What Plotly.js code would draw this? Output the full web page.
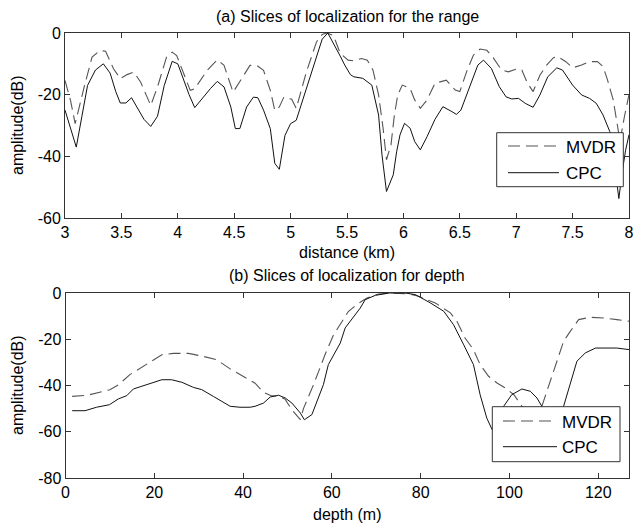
<!DOCTYPE html>
<html>
<head>
<meta charset="utf-8">
<script src="https://cdn.plot.ly/plotly-3.0.1.min.js"></script>
<style>
  html, body { margin: 0; padding: 0; background: #ffffff; }
  #chart { width: 634px; height: 527px; }
</style>
</head>
<body>
<div id="chart"></div>
<script>
// ---------- data: (a) slices for range ----------
const rangeKm = [3.00,3.05,3.10,3.15,3.20,3.27,3.34,3.40,3.45,3.49,3.54,3.59,3.64,3.70,3.76,3.82,3.88,3.95,4.00,4.05,4.10,4.15,4.22,4.29,4.35,4.41,4.47,4.51,4.55,4.61,4.67,4.71,4.76,4.82,4.86,4.90,4.95,5.00,5.05,5.13,5.22,5.28,5.33,5.39,5.44,5.48,5.53,5.56,5.64,5.72,5.78,5.81,5.85,5.91,5.94,5.97,6.01,6.06,6.10,6.15,6.21,6.28,6.35,6.43,6.47,6.51,6.59,6.66,6.71,6.78,6.85,6.91,6.96,7.02,7.08,7.15,7.21,7.28,7.36,7.41,7.50,7.58,7.65,7.71,7.77,7.83,7.87,7.91,7.94,7.97,8.00];
const cpcRange = [-25,-31,-37,-27,-17,-12,-10,-13,-19,-22.7,-22.7,-21,-24,-28,-30.3,-27,-17,-9.2,-10,-15,-20,-24.2,-21,-18,-15.7,-17.5,-24,-31,-31,-24,-20.8,-21,-25,-31,-42.3,-44.2,-33.2,-29.4,-28.3,-19,-8.3,-2,0,-3.9,-7.5,-10.4,-13.5,-14.2,-14.7,-16.9,-26.6,-39.5,-51.4,-46,-38.5,-33,-29.3,-30.9,-35.2,-37.9,-33.6,-28,-23.9,-25.5,-26.4,-25,-16.9,-10.4,-8.8,-11.5,-17.4,-20.7,-21.4,-21.2,-22.8,-24.1,-20.1,-14.2,-11.3,-12,-16.9,-20.1,-21.2,-22.8,-26.6,-32,-42,-53.7,-45,-38,-33];

const rangeKmMvdr = [3.00,3.05,3.09,3.13,3.17,3.24,3.31,3.36,3.43,3.49,3.55,3.61,3.67,3.76,3.82,3.90,3.95,3.99,4.07,4.11,4.15,4.26,4.35,4.41,4.49,4.54,4.64,4.70,4.76,4.82,4.86,4.90,4.94,5.01,5.05,5.14,5.23,5.28,5.32,5.38,5.44,5.51,5.56,5.63,5.68,5.73,5.78,5.82,5.85,5.89,5.92,5.95,5.99,6.06,6.10,6.15,6.21,6.28,6.38,6.46,6.50,6.56,6.62,6.68,6.74,6.79,6.87,6.93,7.00,7.05,7.10,7.15,7.21,7.27,7.33,7.37,7.44,7.50,7.58,7.65,7.72,7.77,7.81,7.86,7.89,7.92,7.96,8.00];
const mvdrRange = [-15.4,-22,-29.4,-23,-17.5,-7.8,-5.7,-5.9,-11.6,-14.8,-13.5,-12.7,-15.9,-23.5,-17.5,-7.8,-6.2,-7.3,-14.8,-18.6,-18.1,-12.1,-8.7,-10.5,-19.2,-16.4,-10.5,-10.5,-12.1,-18.6,-25.1,-24,-20.8,-21.5,-24.5,-12.6,-2.9,-0.5,0,-0.8,-6.6,-8.8,-9,-8.3,-8.8,-12,-20.1,-30.9,-41.1,-36.3,-26.6,-20.1,-16.9,-18,-21.7,-24.4,-21.7,-16.3,-15.3,-18.5,-19,-12.6,-7.2,-5.2,-5.6,-7.7,-12,-12.6,-11.7,-12,-16.3,-19,-13.7,-10.4,-8,-7.7,-9.3,-11.3,-10.4,-9.3,-9.3,-10.9,-15.3,-21.7,-28.7,-35,-27,-20];

// ---------- data: (b) slices for depth ----------
const depthMvdr = [1.5,5,10,12,14.5,17,19,21.7,24.3,27.7,31,34,37,39.7,42.7,44.6,46.5,48,49.5,51,52.9,53.6,55.9,58.5,60.4,62.3,63.7,65.6,67.9,70.5,73.5,77.3,79.5,81.4,83.3,86.7,88.2,90,91.9,93.4,95.3,97.2,99.1,101,102.8,105,107.3,109.2,111.1,112.2,113.7,115.6,118.2,121.2,124.2,127];
const mvdrDepth = [-44.7,-44.2,-41.8,-39.6,-35.3,-32.4,-29.8,-26.7,-26.1,-26.1,-27.4,-28.8,-32.7,-35.8,-39,-43,-44.5,-44.6,-46,-50.5,-54.8,-50,-39.5,-26.5,-18,-12.3,-8,-5,-2.2,-0.4,0,-0.4,-1.4,-2.9,-4.3,-8.6,-12.3,-19.5,-24.5,-31,-36,-38.9,-41.1,-44,-49,-55,-49,-38.2,-28.1,-20.9,-16.6,-11.5,-10.5,-10.8,-11.5,-12.2];

const depthCpc = [1.5,4.4,7,9.9,11.9,13.8,15.3,17.5,19.8,21.7,23.9,26.2,28.8,30.7,33.3,37.1,39.3,41.6,42.7,44.6,46.1,48,49.5,51,52.9,53.8,55.5,56.6,58.1,59.2,60.4,61.9,63,64.5,66.4,67.5,69.8,73,76.5,78.8,80.3,82.2,85.2,87.4,89.7,91.9,93.4,94.9,96.1,97.2,98.7,100.5,102.8,104.7,106.2,107.3,109.5,112.2,115.2,117.1,119.4,124.2,127];
const cpcDepth = [-50.9,-50.9,-49.4,-48.3,-45.8,-44.4,-41.5,-40.1,-38.6,-37.5,-37.5,-38.6,-40.8,-41.8,-44.7,-49,-49.4,-49.4,-49,-47.6,-45,-44.2,-45.4,-47.6,-51.9,-54.8,-52.6,-46.8,-39.6,-31,-26.7,-21.6,-15.1,-11.5,-6.5,-2.9,-1,0,0,-0.7,-2.2,-4.3,-7.9,-13.7,-22.4,-31,-44,-54.1,-59.1,-61,-49,-44,-41.5,-42.5,-45.4,-49,-60,-49,-29.5,-25.9,-23.8,-23.8,-24.5];

// ---------- ticks & labels ----------
const xTicksTop = [3,3.5,4,4.5,5,5.5,6,6.5,7,7.5,8];
const xTickTextTop = ['3','3.5','4','4.5','5','5.5','6','6.5','7','7.5','8'];
const yTicksTop = [0,-20,-40,-60];
const yTickTextTop = ['0','-20','-40','-60'];
const xTicksBot = [0,20,40,60,80,100,120];
const xTickTextBot = ['0','20','40','60','80','100','120'];
const yTicksBot = [0,-20,-40,-60,-80];
const yTickTextBot = ['0','-20','-40','-60','-80'];
const seriesNames = ['MVDR','CPC'];

// ---------- helpers (pixel -> paper) ----------
const W = 634, H = 527;
const px = v => v / W;
const py = v => 1 - v / H;

const FONT = 'Liberation Sans, Arial, sans-serif';
const DASH_COLOR = '#555555';
const SOLID_COLOR = '#111111';
const DASH = '12px,6px';

const traces = [
  {x: rangeKmMvdr, y: mvdrRange, name: seriesNames[0], xaxis: 'x', yaxis: 'y', mode: 'lines',
   line: {color: DASH_COLOR, width: 1.1, dash: DASH}, showlegend: false},
  {x: rangeKm, y: cpcRange, name: seriesNames[1], xaxis: 'x', yaxis: 'y', mode: 'lines',
   line: {color: SOLID_COLOR, width: 1}, showlegend: false},
  {x: depthMvdr, y: mvdrDepth, name: seriesNames[0], xaxis: 'x2', yaxis: 'y2', mode: 'lines',
   line: {color: DASH_COLOR, width: 1.1, dash: DASH}, showlegend: false},
  {x: depthCpc, y: cpcDepth, name: seriesNames[1], xaxis: 'x2', yaxis: 'y2', mode: 'lines',
   line: {color: SOLID_COLOR, width: 1}, showlegend: false}
];

const axisCommon = {
  showline: true, mirror: 'ticks', linecolor: '#333333', linewidth: 1,
  ticks: 'inside', ticklen: 5, tickcolor: '#333333', tickwidth: 1,
  showgrid: false, zeroline: false, fixedrange: true,
  tickfont: {family: FONT, size: 16, color: '#000000'}
};

const layout = {
  width: W, height: H,
  margin: {l: 0, r: 0, t: 0, b: 0, pad: 0},
  paper_bgcolor: '#ffffff', plot_bgcolor: '#ffffff',
  showlegend: false,
  xaxis: Object.assign({}, axisCommon, {domain: [px(65), px(629)], anchor: 'y', range: [3, 8],
    tickmode: 'array', tickvals: xTicksTop, ticktext: xTickTextTop}),
  yaxis: Object.assign({}, axisCommon, {domain: [py(218), py(33)], anchor: 'x', range: [-60, 0],
    tickmode: 'array', tickvals: yTicksTop, ticktext: yTickTextTop}),
  xaxis2: Object.assign({}, axisCommon, {domain: [px(65.5), px(629.3)], anchor: 'y2', range: [0, 127],
    tickmode: 'array', tickvals: xTicksBot, ticktext: xTickTextBot}),
  yaxis2: Object.assign({}, axisCommon, {domain: [py(478), py(293)], anchor: 'x2', range: [-80, 0],
    tickmode: 'array', tickvals: yTicksBot, ticktext: yTickTextBot}),
  shapes: [],
  annotations: []
};

function txt(text, x, y, opts) {
  return Object.assign({text: text, x: px(x), y: py(y), xref: 'paper', yref: 'paper',
    showarrow: false, xanchor: 'center', yanchor: 'middle',
    font: {family: FONT, size: 16, color: '#000000'}}, opts || {});
}

// titles and axis labels
layout.annotations.push(txt('(a) Slices of localization for the range', 347, 16));
layout.annotations.push(txt('distance (km)', 347, 252));
layout.annotations.push(txt('amplitude(dB)', 17, 125, {textangle: -90}));
layout.annotations.push(txt('(b) Slices of localization for depth', 347, 275));
layout.annotations.push(txt('depth (m)', 347, 514));
layout.annotations.push(txt('amplitude(dB)', 17, 385, {textangle: -90}));

// legends (drawn as boxes in paper space)
function legendBox(x0, x1, y0, y1, lx0, lx1, yDash, ySolid, tx) {
  layout.shapes.push({type: 'rect', xref: 'paper', yref: 'paper', layer: 'above',
    x0: px(x0), x1: px(x1), y0: py(y1), y1: py(y0),
    fillcolor: '#ffffff', line: {color: '#333333', width: 1}});
  layout.shapes.push({type: 'line', xref: 'paper', yref: 'paper', layer: 'above',
    x0: px(lx0), x1: px(lx1), y0: py(yDash), y1: py(yDash),
    line: {color: DASH_COLOR, width: 1.1, dash: DASH}});
  layout.shapes.push({type: 'line', xref: 'paper', yref: 'paper', layer: 'above',
    x0: px(lx0), x1: px(lx1), y0: py(ySolid), y1: py(ySolid),
    line: {color: SOLID_COLOR, width: 1}});
  layout.annotations.push(txt(seriesNames[0], tx, yDash + 1, {xanchor: 'left', font: {family: FONT, size: 17, color: '#000000'}}));
  layout.annotations.push(txt(seriesNames[1], tx, ySolid + 0.5, {xanchor: 'left', font: {family: FONT, size: 17, color: '#000000'}}));
}
legendBox(496.7, 623.3, 132.7, 186.7, 508, 559, 146, 172.7, 564);
legendBox(492.3, 620, 406.7, 461.7, 503, 557, 421, 446.7, 560);

Plotly.newPlot('chart', traces, layout, {displayModeBar: false, staticPlot: true});
</script>
</body>
</html>
